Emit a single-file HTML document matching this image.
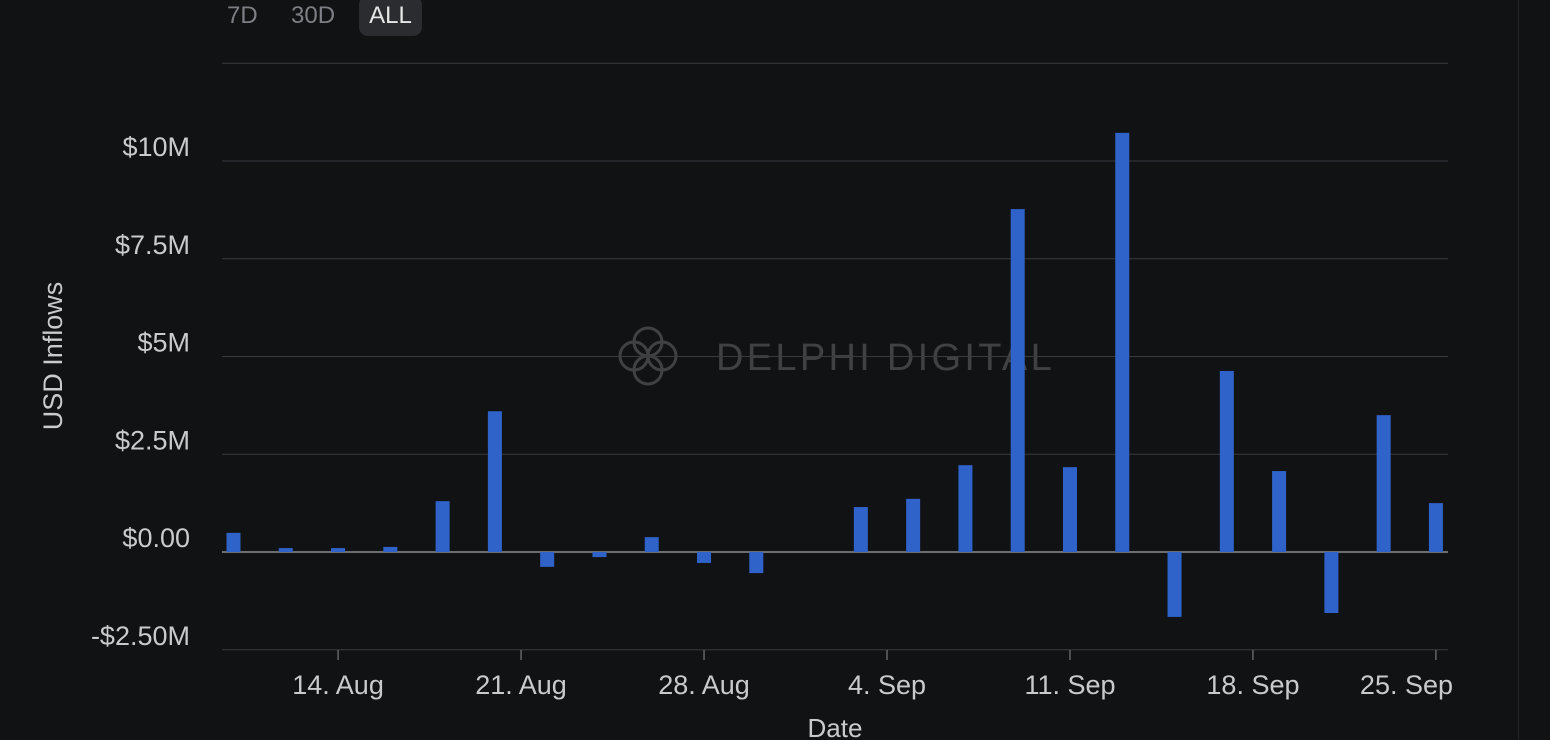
<!DOCTYPE html>
<html><head><meta charset="utf-8">
<style>
html,body{margin:0;padding:0;background:#111214;width:1550px;height:740px;overflow:hidden;font-family:"Liberation Sans",sans-serif;}
.btn{position:absolute;top:0;height:36px;line-height:32px;font-size:24px;color:#7d7f84;}
</style></head>
<body>
<div class="btn" style="left:227px">7D</div>
<div class="btn" style="left:291px">30D</div>
<div class="btn" style="left:359px;top:-4px;height:40px;line-height:40px;width:63px;text-align:center;background:#2a2c30;border-radius:9px;color:#e6e6e6">ALL</div>
<div style="position:absolute;left:1518px;top:0;width:1px;height:740px;background:#26272a"></div>
<svg id="chart" width="1550" height="740" style="position:absolute;left:0;top:0">
<g opacity="0.35" fill="none" stroke="#9a9a9a" stroke-width="3">
<circle cx="648" cy="342" r="14"/><circle cx="634" cy="356" r="14"/><circle cx="662" cy="356" r="14"/><circle cx="648" cy="370" r="14"/>
<text x="716" y="370" fill="#9a9a9a" stroke="none" font-size="38" letter-spacing="3.3" font-family="Liberation Sans, sans-serif">DELPHI DIGITAL</text>
</g>
</svg>
<script>
const categories=["10 Aug","12 Aug","14 Aug","16 Aug","18 Aug","20 Aug","22 Aug","24 Aug","26 Aug","28 Aug","30 Aug","1 Sep","3 Sep","5 Sep","7 Sep","9 Sep","11 Sep","13 Sep","15 Sep","17 Sep","19 Sep","21 Sep","23 Sep","25 Sep"];
const dayIndex=[0,2,4,6,8,10,12,14,16,18,20,22,24,26,28,30,32,34,36,38,40,42,44,46];
const inflows=[0.49,0.1,0.1,0.13,1.3,3.6,-0.38,-0.13,0.38,-0.28,-0.54,0,1.15,1.36,2.22,8.77,2.17,10.72,-1.66,4.63,2.07,-1.56,3.5,1.25];
const yTicks=[-2.5,0,2.5,5,7.5,10,12.5];
const yTickLabels=["-$2.50M","$0.00","$2.5M","$5M","$7.5M","$10M",""];
const xTickDays=[4,11,18,25,32,39,46];
const xTickLabels=["14. Aug","21. Aug","28. Aug","4. Sep","11. Sep","18. Sep","25. Sep"];

const svg=document.getElementById('chart');
const NS="http://www.w3.org/2000/svg";
const y=v=>552-v*39.1;
const x=d=>233.5+d*26.14;
function mk(t,a){const e=document.createElementNS(NS,t);for(const k in a)e.setAttribute(k,a[k]);svg.appendChild(e);return e;}
yTicks.forEach((v,i)=>{
  const l=mk('line',{x1:222,x2:1448,y1:y(v),y2:y(v),stroke:v===0?'#8a8c90':'#3a3b3f','stroke-width':v===0?1.5:1});
  
  
  if(yTickLabels[i]){
    const t=mk('text',{x:190,y:y(v)-5,'text-anchor':'end','font-size':27,fill:'#c9cacc'});
    t.textContent=yTickLabels[i];
    
    
  }
});
xTickDays.forEach((d,i)=>{
  const tk=mk('line',{x1:x(d),x2:x(d),y1:650,y2:660,stroke:'#8a8c90','stroke-width':1});
  
  
  const last=i===xTickDays.length-1;
  const t=mk('text',{x:last?1453:x(d),y:694,'text-anchor':last?'end':'middle','font-size':27,fill:'#c9cacc'});
  t.textContent=xTickLabels[i];
  
  
});
inflows.forEach((v,i)=>{
  const cx=x(dayIndex[i]);
  const top=Math.min(y(v),y(0)),h=Math.abs(y(v)-y(0));
  const r=mk('rect',{x:cx-7,y:top,width:14,height:h,fill:'#2f63c9'});
  
  
});
const yt=mk('text',{x:0,y:0,transform:'translate(62,356) rotate(-90)','text-anchor':'middle','font-size':27,fill:'#c9cacc'});
yt.textContent='USD Inflows';


const xt=mk('text',{x:835,y:737,'text-anchor':'middle','font-size':26,fill:'#c9cacc'});
xt.textContent='Date';


</script>
</body></html>
